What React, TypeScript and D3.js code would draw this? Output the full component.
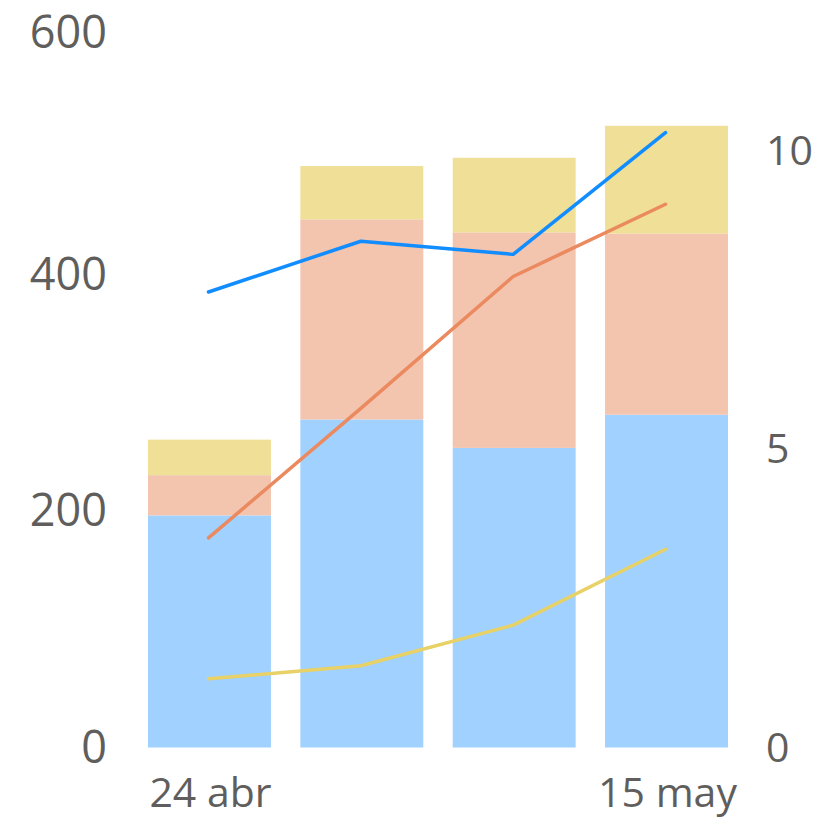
import React from "react";
import * as d3 from "d3";

const dates = ["24 abr", "1 may", "8 may", "15 may"];
const shownDateLabels = ["24 abr", "15 may"];
const barBlue = [196, 277, 253, 281];
const barSalmon = [34, 169, 182, 153];
const barYellow = [30, 45, 63, 91];
const lineBlue = [7.63, 8.48, 8.26, 10.3];
const lineOrange = [3.51, 5.68, 7.89, 9.1];
const lineYellow = [1.15, 1.37, 2.05, 3.32];
const leftTicks = [0, 200, 400, 600];
const rightTicks = [0, 5, 10];

const W = 840;
const H = 825;

export default function App() {
  const x = d3.scaleBand<string>().domain(dates).range([148, 728]).paddingInner(0.193).paddingOuter(0);
  const yL = d3.scaleLinear().domain([0, 600]).range([747.5, 37]);
  const yR = d3.scaleLinear().domain([0, 12]).range([747.5, 31.1]);

  const stackData = dates.map((d, i) => ({ date: d, blue: barBlue[i], salmon: barSalmon[i], yellow: barYellow[i] }));
  const stack = d3.stack<any>().keys(["blue", "salmon", "yellow"]);
  const series = stack(stackData);
  const barColors: Record<string, string> = { blue: "#A0D1FF", salmon: "#F3C4AE", yellow: "#EFDF97" };

  const lines = [
    { values: lineBlue, color: "#118DFF" },
    { values: lineOrange, color: "#EB895F" },
    { values: lineYellow, color: "#E8D166" },
  ];
  const cx = (d: string) => (x(d) as number) + x.bandwidth() / 2 - 1;
  const lineGen = d3
    .line<number>()
    .x((_, i) => cx(dates[i]))
    .y((v) => yR(v));

  const font = "'Segoe UI', 'Open Sans', sans-serif";
  const textColor = "#605E5C";

  return (
    <div style={{ position: "absolute", left: 0, top: 0 }}>
      <svg width={W} height={H} style={{ display: "block", background: "#fff" }}>
        {series.map((s) => (
          <g key={s.key} fill={barColors[s.key]}>
            {s.map((d, i) => (
              <rect
                key={i}
                x={x(dates[i])}
                width={x.bandwidth()}
                y={yL(d[1])}
                height={yL(d[0]) - yL(d[1])}
              />
            ))}
          </g>
        ))}
        {lines.map((l, i) => (
          <path
            key={i}
            d={lineGen(l.values) || ""}
            fill="none"
            stroke={l.color}
            strokeWidth={3.5}
            strokeLinecap="round"
            strokeLinejoin="round"
          />
        ))}
        {leftTicks.map((t, i) => (
          <text
            key={t}
            x={107}
            y={yL(t) - (i === leftTicks.length - 1 ? 5 : 0)}
            dy="0.35em"
            textAnchor="end"
            fontFamily={font}
            fontSize={45}
            fill={textColor}
          >
            {t}
          </text>
        ))}
        {rightTicks.map((t) => (
          <text
            key={t}
            x={766}
            y={yR(t)}
            dy="0.35em"
            textAnchor="start"
            fontFamily={font}
            fontSize={41}
            fill={textColor}
          >
            {t}
          </text>
        ))}
        {shownDateLabels.map((d) => (
          <text
            key={d}
            x={(x(d) as number) + x.bandwidth() / 2 + 1}
            y={806.5}
            textAnchor="middle"
            fontFamily={font}
            fontSize={41}
            fill={textColor}
          >
            {d}
          </text>
        ))}
      </svg>
    </div>
  );
}
